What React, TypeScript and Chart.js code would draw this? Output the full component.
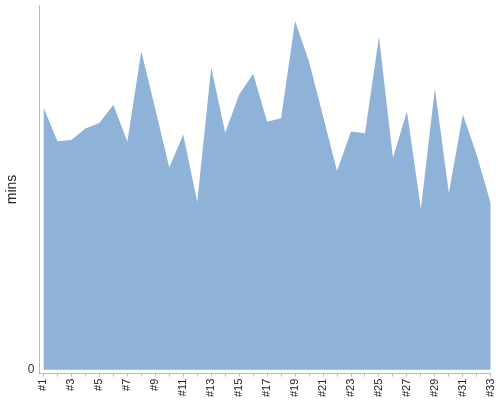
import React, { useEffect, useRef } from "react";
import { Chart, registerables } from "chart.js";

Chart.register(...registerables);

const categories = Array.from({ length: 33 }, (_, i) => "#" + (i + 1));
const minutes = [
  43.2, 37.6, 37.8, 39.7, 40.6, 43.6, 37.5, 52.4, 42.9, 33.3, 38.7, 27.6, 49.7,
  39.0, 45.3, 48.7, 40.8, 41.4, 57.4, 50.7, 41.7, 32.7, 39.2, 38.9, 54.8, 34.9,
  42.5, 26.5, 46.3, 29.1, 42.0, 35.3, 27.3,
];
const yTickValues = [0];
const yTitle = "mins";

export default function App() {
  const ref = useRef<HTMLCanvasElement | null>(null);
  useEffect(() => {
    if (!ref.current) return;
    const chart = new Chart(ref.current, {
      type: "line",
      data: {
        datasets: [
          {
            data: minutes.map((v, i) => ({ x: i + 1, y: v })),
            fill: "origin",
            backgroundColor: "rgb(143,178,217)",
            borderWidth: 0,
            borderColor: "rgba(0,0,0,0)",
            pointRadius: 0,
            tension: 0,
          },
        ],
      },
      options: {
        animation: false,
        responsive: false,
        maintainAspectRatio: false,
        layout: { padding: { top: 5, right: 9, left: 0, bottom: 1 } },
        plugins: { legend: { display: false }, tooltip: { enabled: false } },
        scales: {
          x: {
            type: "linear",
            min: 0.715,
            max: 33,
            afterBuildTicks: (axis: any) => {
              axis.ticks = categories.map((_, i) => ({ value: i + 1 }));
            },
            ticks: {
              autoSkip: false,
              minRotation: 90,
              maxRotation: 90,
              padding: 2,
              color: "#222",
              font: { family: "Liberation Sans, Arial", size: 11 },
              callback: (v: any) => {
                const i = Math.round(Number(v)) - 1;
                return i % 2 === 0 ? categories[i] : "";
              },
            },
            grid: { drawOnChartArea: false, drawTicks: true, tickLength: 3, color: "#bbb" },
            border: { color: "#bbb" },
          },
          y: {
            min: -0.659,
            max: 60,
            afterBuildTicks: (axis: any) => {
              axis.ticks = yTickValues.map((v) => ({ value: v }));
            },
            ticks: {
              padding: 5,
              color: "#333",
              font: { family: "Liberation Sans, Arial", size: 12 },
            },
            grid: { drawOnChartArea: false, drawTicks: false },
            border: { color: "#bbb" },
            title: {
              display: true,
              text: yTitle,
              color: "#222",
              padding: { top: 4, bottom: 2 },
              font: { family: "Liberation Sans, Arial", size: 14 },
            },
          },
        },
      },
    });
    return () => chart.destroy();
  }, []);
  return (
    <div style={{ position: "fixed", left: 0, top: -7, width: 506, height: 407 }}>
      <canvas ref={ref} width={506} height={407} />
    </div>
  );
}
